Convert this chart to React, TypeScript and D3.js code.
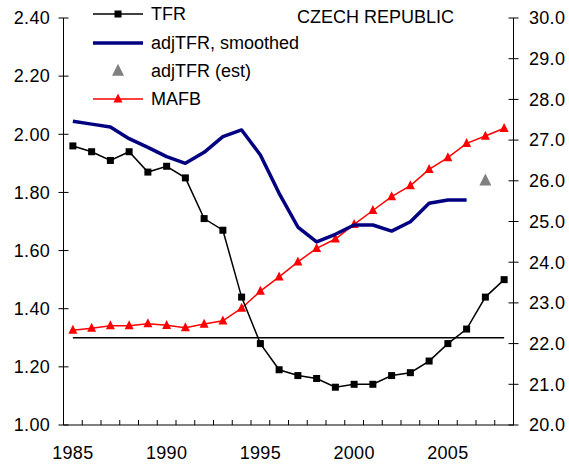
import React from "react";
import * as d3 from "d3";

const years = d3.range(1985, 2009).map(String);
const tfr = [1.96, 1.94, 1.91, 1.94, 1.87, 1.89, 1.85, 1.71, 1.67, 1.44, 1.28, 1.19, 1.17, 1.16, 1.13, 1.14, 1.14, 1.17, 1.18, 1.22, 1.28, 1.33, 1.44, 1.50];
const adjYears = d3.range(1985, 2007).map(String);
const adjTfr = [2.045, 2.035, 2.025, 1.985, 1.955, 1.923, 1.90, 1.938, 1.992, 2.015, 1.929, 1.797, 1.681, 1.63, 1.656, 1.688, 1.688, 1.667, 1.699, 1.763, 1.774, 1.774];
const estYear = "2007";
const estValue = 1.84;
const mafb = [22.33, 22.38, 22.44, 22.44, 22.49, 22.45, 22.39, 22.48, 22.56, 22.87, 23.29, 23.64, 24.01, 24.34, 24.57, 24.93, 25.27, 25.61, 25.88, 26.28, 26.57, 26.92, 27.1, 27.29];
const replacement = 1.3;
const leftTicks = [1.0, 1.2, 1.4, 1.6, 1.8, 2.0, 2.2, 2.4];
const rightTicks = [20, 21, 22, 23, 24, 25, 26, 27, 28, 29, 30];
const labeledYears = ["1985", "1990", "1995", "2000", "2005"];
const legendLabels = ["TFR", "adjTFR, smoothed", "adjTFR (est)", "MAFB"];
const title = "CZECH REPUBLIC";

const W = 569, H = 466;
const L = 63.5, R = 513.5, T = 18, B = 425;
const FONT = "'Liberation Sans', Arial, sans-serif";
const FS = 18;

export default function App() {
  const x = d3.scaleBand<string>().domain(years).range([L, R]).padding(0);
  const cx = (y: string) => (x(y) as number) + x.bandwidth() / 2;
  const yl = d3.scaleLinear().domain([1, 2.4]).range([B, T]);
  const yr = d3.scaleLinear().domain([20, 30]).range([B, T]);

  const tfrLine = d3.line<number>().x((_, i) => cx(years[i])).y((d) => yl(d));
  const adjLine = d3.line<number>().x((_, i) => cx(adjYears[i])).y((d) => yl(d));
  const mafbLine = d3.line<number>().x((_, i) => cx(years[i])).y((d) => yr(d));
  const tri = (px: number, py: number, s: number) =>
    `M${px},${py - s * 0.6}L${px + s / 2},${py + s * 0.4}L${px - s / 2},${py + s * 0.4}Z`;

  const legendY = [14, 43, 71, 99];

  return (
    <svg width={W} height={H} style={{ position: "absolute", left: 0, top: 0, background: "#fff" }} fontFamily={FONT}>
      {/* axes */}
      <line x1={L} x2={L} y1={T} y2={B} stroke="#000" strokeWidth={1} />
      <line x1={R} x2={R} y1={T} y2={B} stroke="#000" strokeWidth={1} />
      <line x1={L} x2={R} y1={B} y2={B} stroke="#000" strokeWidth={1} />
      {leftTicks.map((t) => (
        <g key={"l" + t}>
          <line x1={L - 5} x2={L + 5} y1={yl(t)} y2={yl(t)} stroke="#000" />
          <text x={50} y={yl(t)} dy="0.35em" textAnchor="end" fontSize={FS} letterSpacing={0.3}>{t.toFixed(2)}</text>
        </g>
      ))}
      {rightTicks.map((t) => (
        <g key={"r" + t}>
          <line x1={R - 5} x2={R + 5} y1={yr(t)} y2={yr(t)} stroke="#000" />
          <text x={529} y={yr(t)} dy="0.35em" textAnchor="start" fontSize={FS} letterSpacing={0.3}>{t.toFixed(1)}</text>
        </g>
      ))}
      {years.map((yv) => (
        <line key={"xt" + yv} x1={x(yv)} x2={x(yv)} y1={B} y2={B - 5} stroke="#000" />
      ))}
      <line x1={R} x2={R} y1={B} y2={B - 5} stroke="#000" />
      {labeledYears.map((yv) => (
        <text key={"xl" + yv} x={cx(yv)} y={459} textAnchor="middle" fontSize={FS} letterSpacing={0.3}>{yv}</text>
      ))}

      {/* replacement line */}
      <line x1={cx(years[0])} x2={cx(years[years.length - 1])} y1={yl(replacement)} y2={yl(replacement)} stroke="#000" strokeWidth={1.5} />

      {/* MAFB */}
      <path d={mafbLine(mafb) as string} fill="none" stroke="#ff0000" strokeWidth={1.5} />
      {mafb.map((v, i) => (
        <path key={"m" + i} d={tri(cx(years[i]), yr(v), 9)} fill="#ff0000" />
      ))}

      {/* adjTFR smoothed */}
      <path d={adjLine(adjTfr) as string} fill="none" stroke="#000080" strokeWidth={3.5} strokeLinejoin="round" />

      {/* TFR */}
      <path d={tfrLine(tfr) as string} fill="none" stroke="#000" strokeWidth={1.5} />
      {tfr.map((v, i) => (
        <rect key={"t" + i} x={cx(years[i]) - 3.5} y={yl(v) - 3.5} width={7} height={7} fill="#000" />
      ))}

      {/* est */}
      <path d={tri(cx(estYear), yl(estValue), 12)} fill="#808080" />

      {/* title */}
      <text x={375.5} y={17} dy="0.35em" textAnchor="middle" fontSize={FS}>{title}</text>

      {/* legend */}
      <g>
        <line x1={93} x2={143} y1={legendY[0]} y2={legendY[0]} stroke="#000" strokeWidth={1.5} />
        <rect x={118 - 3.5} y={legendY[0] - 3.5} width={7} height={7} fill="#000" />
        <line x1={93} x2={143} y1={legendY[1]} y2={legendY[1]} stroke="#000080" strokeWidth={3.5} />
        <path d={tri(118, legendY[2], 12)} fill="#808080" />
        <line x1={93} x2={143} y1={legendY[3]} y2={legendY[3]} stroke="#ff0000" strokeWidth={1.5} />
        <path d={tri(118, legendY[3], 9)} fill="#ff0000" />
        {legendLabels.map((lab, i) => (
          <text key={lab} x={151} y={legendY[i]} dy="0.35em" fontSize={FS}>{lab}</text>
        ))}
      </g>
    </svg>
  );
}
